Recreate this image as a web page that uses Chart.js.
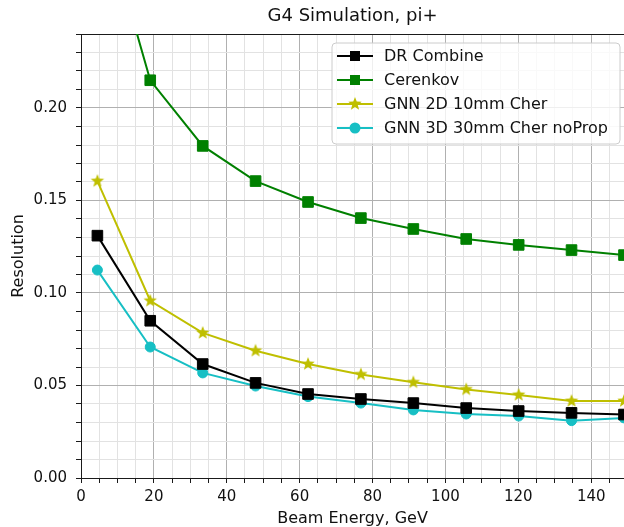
<!DOCTYPE html>
<html>
<head>
<meta charset="utf-8">
<script src="https://cdn.jsdelivr.net/npm/chart.js@4.4.0/dist/chart.umd.min.js"></script>
<style>
  html, body { margin: 0; padding: 0; background: #fff; overflow: hidden; }
  #wrap { width: 624px; height: 527px; }
</style>
</head>
<body>
<div id="wrap"><canvas id="chart" width="624" height="527"></canvas></div>
<script>
// Data
const energy = [4.5, 19, 33.4, 47.9, 62.3, 76.8, 91.2, 105.7, 120.1, 134.6, 149];
const drCombine = [0.131, 0.085, 0.0616, 0.0514, 0.0454, 0.0427, 0.0405, 0.0378, 0.0362, 0.0352, 0.0343];
const cerenkov = [0.315, 0.215, 0.1795, 0.1605, 0.1492, 0.1405, 0.1346, 0.1292, 0.126, 0.1232, 0.1205];
const gnn2d = [0.1605, 0.0958, 0.0784, 0.0688, 0.0616, 0.056, 0.0517, 0.0479, 0.0449, 0.0416, 0.0416];
const gnn3d = [0.1124, 0.0708, 0.0568, 0.0497, 0.044, 0.0405, 0.0368, 0.0346, 0.0335, 0.031, 0.0325];
const seriesNames = ["DR Combine", "Cerenkov", "GNN 2D 10mm Cher", "GNN 3D 30mm Cher noProp"];
const xTickLabels = ["0", "20", "40", "60", "80", "100", "120", "140"];
const yTickLabels = ["0.00", "0.05", "0.10", "0.15", "0.20"];

const FONT = "DejaVu Sans";
const MAJOR = "#b0b0b0";
const MINOR = "#e2e2e2";
const SPINE = "#1a1a1a";

// filled 5-point star for the yellow series
function makeStar(color, r) {
  const c = document.createElement("canvas");
  const s = Math.ceil(r * 2 + 2);
  c.width = s;
  c.height = s;
  const g = c.getContext("2d");
  g.beginPath();
  for (let i = 0; i < 10; i++) {
    const rad = i % 2 === 0 ? r : r * 0.42;
    const a = -Math.PI / 2 + (i * Math.PI) / 5;
    const px = s / 2 + rad * Math.cos(a);
    const py = s / 2 + rad * Math.sin(a);
    if (i === 0) g.moveTo(px, py);
    else g.lineTo(px, py);
  }
  g.closePath();
  g.fillStyle = color;
  g.fill();
  return c;
}
const starImg = makeStar("#bfbf00", 7);

function toPoints(ys) {
  return energy.map((x, i) => ({ x: x, y: ys[i] }));
}

function isMultiple(v, step) {
  const q = v / step;
  return Math.abs(q - Math.round(q)) < 1e-6;
}

// legend drawn inside the plot, top right
const insideLegend = {
  id: "insideLegend",
  afterDraw(chart) {
    const ctx = chart.ctx;
    const bx = 332, by = 43, bw = 288, bh = 101;
    ctx.save();
    ctx.beginPath();
    ctx.roundRect(bx, by, bw, bh, 4);
    ctx.fillStyle = "rgba(255,255,255,0.8)";
    ctx.fill();
    ctx.strokeStyle = "#cccccc";
    ctx.lineWidth = 1;
    ctx.stroke();

    const rows = [56, 80, 104, 128];
    chart.data.datasets.forEach((ds, i) => {
      const y = rows[i];
      ctx.beginPath();
      ctx.moveTo(337, y);
      ctx.lineTo(373, y);
      ctx.strokeStyle = ds.borderColor;
      ctx.lineWidth = 2;
      ctx.stroke();
      if (ds.pointStyle === "rect") {
        ctx.fillStyle = ds.backgroundColor;
        ctx.fillRect(355 - 5, y - 5, 10, 10);
      } else if (ds.pointStyle === "circle") {
        ctx.beginPath();
        ctx.arc(355, y, 5.5, 0, Math.PI * 2);
        ctx.fillStyle = ds.backgroundColor;
        ctx.fill();
      } else {
        ctx.drawImage(starImg, 355 - starImg.width / 2, y - starImg.height / 2);
      }
      ctx.fillStyle = "#111";
      ctx.font = "16px '" + FONT + "'";
      ctx.textBaseline = "middle";
      ctx.fillText(seriesNames[i], 384, y + 1);
    });
    ctx.restore();
  },
};

const ctx = document.getElementById("chart").getContext("2d");
const chart = new Chart(ctx, {
  type: "line",
  data: {
    datasets: [
      {
        label: seriesNames[0],
        data: toPoints(drCombine),
        borderColor: "#000000",
        backgroundColor: "#000000",
        pointStyle: "rect",
        pointRadius: 7.5,
      },
      {
        label: seriesNames[1],
        data: toPoints(cerenkov),
        borderColor: "#008000",
        backgroundColor: "#008000",
        pointStyle: "rect",
        pointRadius: 7.5,
      },
      {
        label: seriesNames[2],
        data: toPoints(gnn2d),
        borderColor: "#bfbf00",
        backgroundColor: "#bfbf00",
        pointStyle: starImg,
        pointRadius: 7,
      },
      {
        label: seriesNames[3],
        data: toPoints(gnn3d),
        borderColor: "#17bfc4",
        backgroundColor: "#17bfc4",
        pointStyle: "circle",
        pointRadius: 5,
      },
    ],
  },
  options: {
    responsive: false,
    animation: false,
    devicePixelRatio: 1,
    layout: { padding: 0, autoPadding: false },
    elements: {
      line: { borderWidth: 2, tension: 0 },
      point: { borderWidth: 1, hoverRadius: 6 },
    },
    datasets: { line: { clip: 0 } },
    plugins: {
      legend: { display: false },
      tooltip: { enabled: false },
      title: {
        display: true,
        text: "G4 Simulation, pi+",
        fullSize: false,
        color: "#111",
        font: { family: FONT, size: 18, weight: "normal" },
        padding: { top: 6, bottom: 6.4 },
      },
    },
    scales: {
      x: {
        type: "linear",
        min: 0,
        max: 149,
        afterFit(scale) {
          scale.height = 49;
        },
        ticks: {
          stepSize: 5,
          autoSkip: false,
          maxRotation: 0,
          includeBounds: false,
          padding: 5,
          color: "#111",
          font: { family: FONT, size: 15 },
          callback: (v) => (isMultiple(v, 20) ? xTickLabels[Math.round(v / 20)] : ""),
        },
        grid: {
          color: (c) => (isMultiple(c.tick.value, 20) ? MAJOR : MINOR),
          tickColor: SPINE,
          tickLength: 5,
          lineWidth: 1,
        },
        border: { color: SPINE, width: 1 },
        title: {
          display: true,
          text: "Beam Energy, GeV",
          color: "#111",
          font: { family: FONT, size: 16 },
          padding: { top: 0, bottom: -1 },
        },
      },
      y: {
        type: "linear",
        min: 0,
        max: 0.24,
        afterFit(scale) {
          scale.width = 81;
        },
        ticks: {
          stepSize: 0.01,
          autoSkip: false,
          padding: 9,
          color: "#111",
          font: { family: FONT, size: 15 },
          callback: (v) => (isMultiple(v, 0.05) ? yTickLabels[Math.round(v / 0.05)] : ""),
        },
        grid: {
          color: (c) => {
            if (c.tick.value >= 0.2399) return SPINE;
            return isMultiple(c.tick.value, 0.05) ? MAJOR : MINOR;
          },
          tickColor: SPINE,
          tickLength: 5,
          lineWidth: 1,
        },
        border: { color: SPINE, width: 1 },
        title: {
          display: true,
          text: "Resolution",
          color: "#111",
          font: { family: FONT, size: 16 },
          padding: { top: 9, bottom: 0 },
        },
      },
    },
  },
  plugins: [insideLegend],
});
</script>
</body>
</html>
